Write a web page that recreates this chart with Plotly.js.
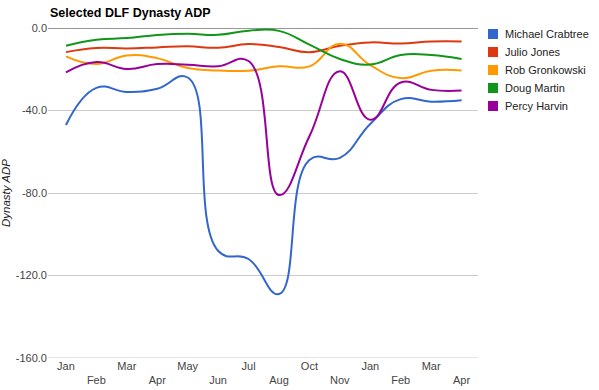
<!DOCTYPE html>
<html><head><meta charset="utf-8">
<script src="https://cdn.plot.ly/plotly-3.0.1.min.js"></script>
<style>html,body{margin:0;padding:0;background:#fff;}#chart{width:599px;height:390px;}</style>
</head><body><div id="chart"></div>
<script>
// ---- data ----
const months = ['Jan','Feb','Mar','Apr','May','Jun','Jul','Aug','Oct','Nov','Jan','Feb','Mar','Apr'];
const players = ['Michael Crabtree','Julio Jones','Rob Gronkowski','Doug Martin','Percy Harvin'];
const crabtree  = [-47, -29, -31, -29.5, -24, -108, -112, -129, -64, -63, -46.5, -34.5, -35.7, -35];
const julioJones = [-11.7, -9.7, -9.9, -9.4, -8.9, -9.6, -7.8, -9.2, -11.7, -8.6, -7, -7.5, -6.5, -6.5];
const gronkowski = [-13.8, -17.5, -13.3, -14.6, -19.4, -20.6, -20.7, -18.6, -18.6, -7.6, -18, -24.3, -20.7, -20.6];
const dougMartin = [-8.6, -5.7, -4.9, -3.4, -2.8, -3.3, -1.3, -1.4, -8.1, -15, -17.7, -13.1, -13.1, -15];
const percyHarvin = [-21.5, -16.5, -19.9, -17.5, -17.8, -18.6, -16, -81, -52.5, -21, -44.5, -26.4, -30, -30.3];
const yTickVals = [0, -40, -80, -120, -160];
const yTickText = ['0.0', '-40.0', '-80.0', '-120.0', '-160.0'];

// ---- styling ----
const colors = ['#3366cc','#dc3912','#ff9900','#109618','#990099'];
const series = [crabtree, julioJones, gronkowski, dougMartin, percyHarvin];
const FONT = 'Arial, "Liberation Sans", sans-serif';
const W = 599, H = 390;
const L = 48, R = 478, T = 28, B = 358;
const px2x = p => (p - L) / (R - L);
const px2y = p => (B - p) / (B - T);

const xIdx = months.map((m, i) => i);
const xTickText = months.map((m, i) => i % 2 === 0 ? m : '<br>' + m);

const traces = series.map((vals, k) => ({
  type: 'scatter', mode: 'lines', name: players[k],
  x: xIdx, y: vals,
  line: {color: colors[k], width: 2, shape: 'spline', smoothing: 1.3},
  showlegend: false, hoverinfo: 'skip'
}));

const shapes = [
  {type: 'line', xref: 'paper', yref: 'y', x0: 0, x1: 1, y0: -160, y1: -160, line: {color: '#cccccc', width: 1}, layer: 'below'},
  {type: 'line', xref: 'paper', yref: 'y', x0: 0, x1: 1, y0: 0, y1: 0, line: {color: '#333333', width: 1}, layer: 'below'}
];
const annotations = [];
players.forEach((p, k) => {
  const cy = 34 + 18 * k;
  shapes.push({type: 'rect', xref: 'paper', yref: 'paper',
    x0: px2x(488), x1: px2x(498), y0: px2y(cy + 5), y1: px2y(cy - 5),
    fillcolor: colors[k], line: {width: 0}});
  annotations.push({xref: 'paper', yref: 'paper', x: px2x(503), y: px2y(cy),
    xanchor: 'left', yanchor: 'middle', showarrow: false, text: p,
    font: {family: FONT, size: 11, color: '#222222'}});
});

const layout = {
  width: W, height: H,
  margin: {l: L, r: W - R, t: T, b: H - B},
  paper_bgcolor: '#ffffff', plot_bgcolor: '#ffffff',
  font: {family: FONT, size: 11, color: '#444444'},
  title: {text: '<b>Selected DLF Dynasty ADP</b>', font: {family: FONT, size: 12.5, color: '#000000'},
    xref: 'container', yref: 'container', x: 50 / W, xanchor: 'left', y: 1 - 13 / H, yanchor: 'middle'},
  xaxis: {range: [-0.59, 13.54], tickmode: 'array', tickvals: xIdx, ticktext: xTickText,
    showgrid: false, zeroline: false, showline: false, ticks: '', fixedrange: true,
    tickfont: {family: FONT, size: 11, color: '#444444'}, automargin: false},
  yaxis: {range: [-160, 0], tickmode: 'array', tickvals: yTickVals, ticktext: yTickText,
    showgrid: true, gridcolor: '#cccccc', gridwidth: 1, zeroline: false, showline: false, ticks: '',
    tickfont: {family: FONT, size: 11, color: '#444444'}, automargin: false,
    title: {text: '<i>Dynasty ADP</i>', font: {family: FONT, size: 11.5, color: '#222222'}, standoff: 3}},
  shapes: shapes, annotations: annotations, showlegend: false
};

Plotly.newPlot('chart', traces, layout, {displayModeBar: false, staticPlot: true});
</script></body></html>
